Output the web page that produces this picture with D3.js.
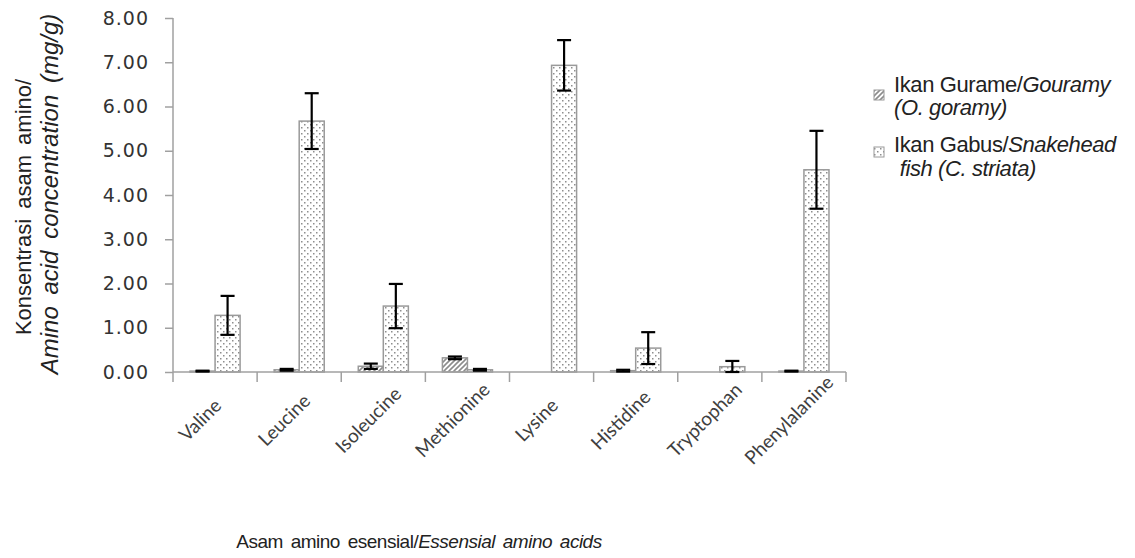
<!DOCTYPE html>
<html><head><meta charset="utf-8">
<script src="https://cdn.jsdelivr.net/npm/d3@7"></script>
<style>
body{margin:0;background:#fff;}
svg{display:block;}
</style></head>
<body>
<svg id="chart" width="1135" height="558"></svg>
<script>
const categories = ["Valine","Leucine","Isoleucine","Methionine","Lysine","Histidine","Tryptophan","Phenylalanine"];
const seriesNames = ["Ikan Gurame/Gouramy (O. goramy)","Ikan Gabus/Snakehead fish (C. striata)"];
const gourameValues = [0.02, 0.05, 0.13, 0.32, 0, 0.03, 0, 0.02];
const gourameErrors = [0.01, 0.02, 0.06, 0.03, 0, 0.02, 0, 0.01];
const gabusValues   = [1.28, 5.67, 1.49, 0.05, 6.93, 0.54, 0.12, 4.57];
const gabusErrors   = [0.44, 0.63, 0.50, 0.02, 0.57, 0.36, 0.13, 0.88];
const yTicks = [0,1,2,3,4,5,6,7,8];

const svg = d3.select("#chart");
const defs = svg.append("defs");
// hatch pattern
const hatch = defs.append("pattern").attr("id","hatch").attr("patternUnits","userSpaceOnUse")
  .attr("width",5).attr("height",5);
hatch.append("rect").attr("width",5).attr("height",5).attr("fill","#fff");
hatch.append("path").attr("d","M-1,1 l2,-2 M0,5 l5,-5 M4,6 l2,-2").attr("stroke","#8c8c8c").attr("stroke-width",1.6);
// dots pattern
const dots = defs.append("pattern").attr("id","dots").attr("patternUnits","userSpaceOnUse")
  .attr("width",6).attr("height",6);
dots.append("rect").attr("width",6).attr("height",6).attr("fill","#fff");
dots.append("rect").attr("x",1).attr("y",1).attr("width",1.5).attr("height",1.5).attr("fill","#8e8e8e");
dots.append("rect").attr("x",4).attr("y",4).attr("width",1.5).attr("height",1.5).attr("fill","#8e8e8e");

const x = d3.scaleBand().domain(categories).range([173, 846]).paddingInner(0).paddingOuter(0);
const xs = d3.scaleBand().domain([0,1]).range([0, x.bandwidth()]).paddingInner(0).paddingOuter(0.68);
const y = d3.scaleLinear().domain([0,8]).range([372, 18]);

const axisColor = "#a0a0a0";

// y axis
const yAxis = d3.axisLeft(y).tickValues(yTicks).tickSize(8).tickFormat(d3.format(".2f"));
const gy = svg.append("g").attr("transform","translate(173,0)").call(yAxis);
gy.select(".domain").attr("stroke",axisColor).attr("stroke-width",1.5).attr("d","M0,"+y(8)+"V"+y(0));
gy.selectAll(".tick line").attr("stroke",axisColor).attr("stroke-width",1.5);
gy.selectAll(".tick text").attr("x",-24).attr("fill","#333")
  .style("font-family","'DejaVu Sans', sans-serif").style("font-size","19px").style("letter-spacing","1px");

// bars
const data = [gourameValues, gabusValues];
const errs = [gourameErrors, gabusErrors];
const fills = ["url(#hatch)","url(#dots)"];
data.forEach((vals, si) => {
  const g = svg.append("g");
  g.selectAll("rect").data(categories).join("rect")
    .attr("x", c => x(c) + xs(si))
    .attr("width", xs.bandwidth())
    .attr("y", (c,i) => y(vals[i]))
    .attr("height", (c,i) => y(0) - y(vals[i]))
    .attr("fill", fills[si])
    .attr("stroke", (c,i) => vals[i] > 0 ? "#9a9a9a" : "none")
    .attr("stroke-width", 1.5);
});

// x axis
const gx = svg.append("g").attr("transform","translate(0,372)");
gx.append("line").attr("x1",173).attr("x2",846).attr("y1",0).attr("y2",0).attr("stroke",axisColor).attr("stroke-width",1.5);
const bounds = categories.map(c => x(c)).concat([x.range()[1]]);
gx.selectAll(".xt").data(bounds).join("line").attr("class","xt")
  .attr("x1",d=>d).attr("x2",d=>d).attr("y1",0).attr("y2",10).attr("stroke",axisColor).attr("stroke-width",1.5);
gx.selectAll(".xl").data(categories).join("text").attr("class","xl")
  .attr("transform", c => `translate(${x(c)+x.bandwidth()/2-15},${48}) rotate(-45)`)
  .attr("text-anchor","middle").attr("dy","0.35em")
  .attr("fill","#404040").style("font-family","Lato, sans-serif").style("font-size","19px")
  .text(c=>c);

// error bars
data.forEach((vals, si) => {
  const g = svg.append("g");
  categories.forEach((c,i) => {
    const e = errs[si][i];
    if (vals[i] <= 0 && e <= 0) return;
    const cx = x(c) + xs(si) + xs.bandwidth()/2;
    const y1 = y(vals[i] + e), y2 = y(Math.max(0, vals[i] - e));
    g.append("line").attr("x1",cx).attr("x2",cx).attr("y1",y1).attr("y2",y2).attr("stroke","#000").attr("stroke-width",2.2);
    [y1,y2].forEach(yy => g.append("line").attr("x1",cx-7).attr("x2",cx+7).attr("y1",yy).attr("y2",yy).attr("stroke","#000").attr("stroke-width",2.2));
  });
});

// y title
const yt = svg.append("text").attr("transform","translate(0,200) rotate(-90)").attr("text-anchor","middle")
  .style("font-family","'Liberation Sans', Arial, sans-serif").attr("fill","#222");
yt.append("tspan").attr("x",-7).attr("y",31).style("font-size","22px").style("word-spacing","4px").text("Konsentrasi asam amino/");
yt.append("tspan").attr("x",6).attr("y",58).style("font-size","24px").style("font-style","italic").style("word-spacing","5px").text("Amino acid concentration  (mg/g)");

// x title
const xt = svg.append("text").attr("x",419).attr("y",548).attr("text-anchor","middle")
  .style("font-family","'Liberation Sans', Arial, sans-serif").style("font-size","19px")
  .style("letter-spacing","-0.5px").attr("fill","#222");
xt.append("tspan").style("word-spacing","3px").text("Asam amino esensial/");
xt.append("tspan").style("font-style","italic").style("word-spacing","3px").text("Essensial amino acids");

// legend
const legend = svg.append("g").style("font-family","'Liberation Sans', Arial, sans-serif").style("font-size","22px").attr("fill","#222");
const legendLines = [
  [["Ikan Gurame/",false],["Gouramy",true]], [["(O. goramy)",true]],
  [["Ikan Gabus/",false],["Snakehead",true]], [[" fish (C. striata)",true]]
];
const legendY = [92, 115, 152, 176];
const boxY = [90, 147];
seriesNames.forEach((s, i) => {
  legend.append("rect").attr("x",874).attr("y",boxY[i]).attr("width",10).attr("height",10)
    .attr("fill",fills[i]).attr("stroke","#9a9a9a").attr("stroke-width",1);
});
legendLines.forEach((parts, li) => {
  const t = legend.append("text").attr("x",894).attr("y",legendY[li]).style("letter-spacing","-0.4px").attr("xml:space","preserve");
  parts.forEach(p => t.append("tspan").style("font-style", p[1] ? "italic" : "normal").text(p[0]));
});
</script>
</body></html>
